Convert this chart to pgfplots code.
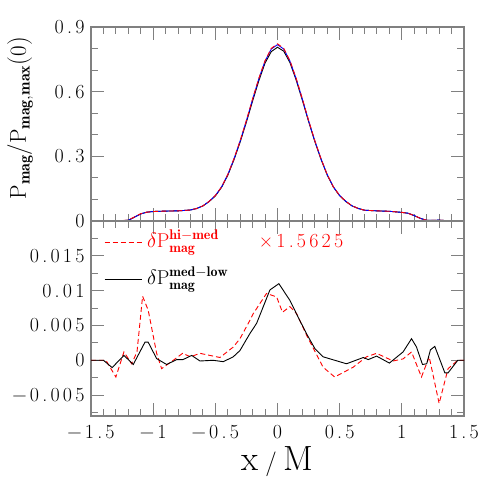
\documentclass[border=0pt]{standalone}
\usepackage{fontspec}
\usepackage{pgfplots}
\pgfplotsset{compat=1.18}
\newfontfamily\tickfont[LetterSpace=16]{Latin Modern Roman}
\definecolor{axgray}{RGB}{128,128,128}
\pgfplotsset{
  common/.style={
    scale only axis,
    width=373pt,
    xmin=-1.5, xmax=1.5,
    axis line style={axgray, line width=1.2pt},
    every tick/.style={axgray, line width=1.0pt},
    tick align=inside,
    major tick length=13pt,
    minor tick length=7pt,
    xtick={-1.5,-1,-0.5,0,0.5,1,1.5},
    minor x tick num=4,
    tick label style={font=\tickfont\fontsize{20}{24}\selectfont},
    yticklabel style={xshift=-3pt},
    xticklabel style={yshift=-6pt},
    scaled y ticks=false,
  }
}
\begin{document}
\begin{tikzpicture}
\path[use as bounding box] (0,0) rectangle (491pt,-491pt);
% top panel
\begin{axis}[common,
  at={(91pt,-27pt)}, anchor=north west,
  height=194pt,
  ymin=0, ymax=0.9,
  ytick={0,0.3,0.6,0.9},
  yticklabels={0,0.3,0.6,0.9},
  minor ytick={0.1,0.2,0.4,0.5,0.7,0.8},
  xticklabels={},
  ylabel={$\mathrm{P_{\mathbf{mag}}/P_{\mathbf{mag,max}}(0)}$},
  ylabel style={at={(axis description cs:-0.19,0.53)}, anchor=center, font=\fontsize{23}{28}\selectfont},
]
\addplot[black, line width=0.9pt] coordinates {
(-1.50,0) (-1.40,0) (-1.30,0.001) (-1.25,0.002) (-1.20,0.003) (-1.15,0.018) (-1.10,0.033) (-1.05,0.041) (-1.00,0.044) (-0.90,0.046) (-0.80,0.047) (-0.70,0.051) (-0.65,0.058) (-0.60,0.070) (-0.55,0.090) (-0.50,0.116) (-0.45,0.156) (-0.40,0.212) (-0.35,0.284) (-0.30,0.367) (-0.25,0.459) (-0.20,0.557) (-0.15,0.651) (-0.10,0.733) (-0.05,0.786) (0.00,0.806) (0.05,0.788) (0.10,0.735) (0.15,0.654) (0.20,0.560) (0.25,0.462) (0.30,0.369) (0.35,0.286) (0.40,0.213) (0.45,0.157) (0.50,0.117) (0.55,0.090) (0.60,0.070) (0.65,0.058) (0.70,0.050) (0.80,0.047) (0.90,0.045) (1.00,0.040) (1.05,0.036) (1.10,0.025) (1.15,0.012) (1.20,0.003) (1.25,0.003) (1.30,0.004) (1.35,0.002) (1.40,0.001) (1.50,0)
};
\addplot[blue, line width=0.9pt] coordinates {
(-1.50,0) (-1.40,0) (-1.30,0.001) (-1.25,0.002) (-1.20,0.003) (-1.15,0.018) (-1.10,0.033) (-1.05,0.041) (-1.00,0.044) (-0.90,0.046) (-0.80,0.047) (-0.70,0.051) (-0.65,0.058) (-0.60,0.070) (-0.55,0.091) (-0.50,0.118) (-0.45,0.158) (-0.40,0.215) (-0.35,0.288) (-0.30,0.372) (-0.25,0.465) (-0.20,0.565) (-0.15,0.660) (-0.10,0.742) (-0.05,0.798) (0.00,0.818) (0.05,0.798) (0.10,0.742) (0.15,0.660) (0.20,0.565) (0.25,0.465) (0.30,0.372) (0.35,0.288) (0.40,0.215) (0.45,0.158) (0.50,0.118) (0.55,0.091) (0.60,0.070) (0.65,0.058) (0.70,0.050) (0.80,0.047) (0.90,0.045) (1.00,0.040) (1.05,0.036) (1.10,0.025) (1.15,0.012) (1.20,0.003) (1.25,0.003) (1.30,0.004) (1.35,0.002) (1.40,0.001) (1.50,0)
};
\addplot[red, line width=0.9pt, dash pattern=on 5pt off 3pt] coordinates {
(-1.50,0) (-1.40,0) (-1.30,0.001) (-1.25,0.002) (-1.20,0.004) (-1.15,0.019) (-1.10,0.034) (-1.05,0.041) (-1.00,0.044) (-0.90,0.046) (-0.80,0.047) (-0.70,0.051) (-0.65,0.058) (-0.60,0.070) (-0.55,0.091) (-0.50,0.118) (-0.45,0.158) (-0.40,0.215) (-0.35,0.289) (-0.30,0.373) (-0.25,0.467) (-0.20,0.567) (-0.15,0.662) (-0.10,0.744) (-0.05,0.801) (0.00,0.822) (0.05,0.801) (0.10,0.744) (0.15,0.662) (0.20,0.567) (0.25,0.467) (0.30,0.373) (0.35,0.289) (0.40,0.215) (0.45,0.158) (0.50,0.118) (0.55,0.091) (0.60,0.070) (0.65,0.058) (0.70,0.050) (0.80,0.047) (0.90,0.045) (1.00,0.040) (1.05,0.036) (1.10,0.025) (1.15,0.012) (1.20,0.003) (1.25,0.003) (1.30,0.004) (1.35,0.002) (1.40,0.001) (1.50,0)
};
\end{axis}
% bottom panel
\begin{axis}[common,
  at={(91pt,-221pt)}, anchor=north west,
  height=195pt,
  ymin=-0.008, ymax=0.02,
  ytick={-0.005,0,0.005,0.01,0.015},
  yticklabels={−0.005,0,0.005,0.01,0.015},
  minor ytick={-0.0075,-0.0025,0.0025,0.0075,0.0125,0.0175},
  xticklabels={−1.5,−1,−0.5,0,0.5,1,1.5},
  xlabel={$\mathrm{x\;/\;M}$},
  xlabel style={at={(axis description cs:0.5,-0.236)}, anchor=center, font=\fontsize{35}{40}\selectfont},
  legend style={at={(axis description cs:0,1)}, anchor=north west, xshift=8pt, yshift=-5pt, draw=none, fill=none, font=\fontsize{20}{24}\selectfont, row sep=14pt, cells={anchor=west}},
  legend image code/.code={},
]
\addplot[red, line width=0.9pt, dash pattern=on 5pt off 3pt] coordinates {
(-1.50,0) (-1.38,0) (-1.30,-0.0024) (-1.235,0.0012) (-1.173,-0.0005) (-1.13,0.0012) (-1.085,0.0092) (-1.04,0.0072) (-0.972,0.001) (-0.932,-0.0012) (-0.838,0) (-0.763,0.001) (-0.70,0.0005) (-0.624,0.001) (-0.463,0.0004) (-0.356,0.0019) (-0.302,0.0031) (-0.22,0.0058) (-0.195,0.0067) (-0.088,0.0096) (-0.007,0.0091) (0.04,0.0069) (0.10,0.0077) (0.154,0.0067) (0.234,0.0036) (0.367,-0.001) (0.46,-0.0024) (0.608,-0.001) (0.716,0.0005) (0.797,0.001) (0.93,-0.0001) (1.01,0.0002) (1.078,0.0012) (1.158,-0.0024) (1.22,0.0005) (1.30,-0.0062) (1.372,-0.0012) (1.45,0) (1.50,0)
};
\addlegendentry{{\color{red}\tikz[baseline=-0.6ex]\draw[red, line width=0.9pt, dash pattern=on 5pt off 3pt] (0pt,0pt) -- (37pt,0pt);\hspace{5pt}$\delta\mathrm{P}^{\mathbf{hi-med}}_{\mathbf{mag}\vphantom{\mathbf{h}}}$\hspace{40pt}{\tickfont\fontsize{20}{24}\selectfont ×1.5625}}}
\addplot[black, line width=0.9pt] coordinates {
(-1.50,0) (-1.40,0) (-1.33,-0.00105) (-1.235,0.0007) (-1.16,-0.0006) (-1.066,0.0026) (-1.04,0.0026) (-0.972,0.00024) (-0.892,-0.0006) (-0.81,0.0001) (-0.76,0.0001) (-0.69,0.0007) (-0.624,-0.0001) (-0.517,0) (-0.436,-0.0002) (-0.356,0.0005) (-0.302,0.0014) (-0.22,0.0039) (-0.168,0.0053) (-0.061,0.0101) (0.011,0.011) (0.10,0.0086) (0.166,0.0062) (0.234,0.0038) (0.30,0.0017) (0.367,0.0005) (0.555,-0.0005) (0.69,0.0004) (0.73,0.0001) (0.797,0.0006) (0.90,-0.0004) (1.01,0.0012) (1.078,0.0031) (1.118,0.0019) (1.166,-0.0006) (1.20,-0.0005) (1.23,0.0015) (1.265,0.002) (1.346,-0.0018) (1.372,-0.0018) (1.45,0) (1.50,0)
};
\addlegendentry{\tikz[baseline=-0.6ex]\draw[black, line width=0.9pt] (0pt,0pt) -- (37pt,0pt);\hspace{5pt}$\delta\mathrm{P}^{\mathbf{med-low}}_{\mathbf{mag}\vphantom{\mathbf{h}}}$}
\end{axis}
\end{tikzpicture}
\end{document}
